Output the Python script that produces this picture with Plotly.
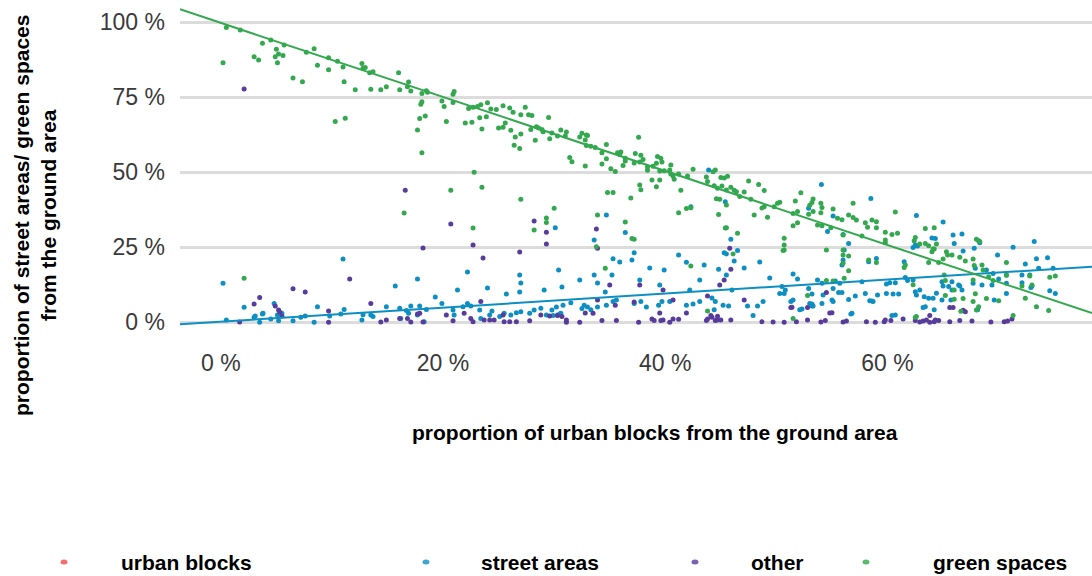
import plotly.graph_objects as go

# ---- data (percent of ground area) ----
green_x = [0.5, 1.75, 0.2, 3.75, 4.5, 5.0, 5.7, 3.0, 3.4, 4.9, 5.2, 5.6, 5.1, 6.5, 7.35, 7.7, 8.4, 8.7, 9.7, 9.7,
           10.5, 11.0, 11.1, 10.3, 11.2, 12.1, 12.7, 12.8, 13.0, 13.4, 13.7, 13.5, 14.4, 14.9, 16.0, 16.1, 16.9, 16.8, 17.1, 18.1,
           18.5, 18.6, 18.1, 18.0, 18.4, 17.9, 17.7, 18.1, 19.9, 20.1, 20.3, 20.9, 21.0, 20.9, 22.0, 22.6, 22.3, 22.7, 23.1, 23.3,
           23.4, 24.0, 24.3, 24.8, 25.4, 26.0, 26.3, 23.9, 23.5, 25.0, 25.4, 25.6, 26.1, 26.5, 27.0, 26.4, 26.9, 27.0, 27.4, 27.7,
           28.0, 27.9, 28.4, 28.6, 29.0, 28.9, 28.3, 29.5, 29.6, 29.8, 30.6, 31.1, 31.0, 30.3, 32.3, 32.5, 32.9, 33.0, 32.8, 32.9,
           33.3, 33.7, 34.7, 34.3, 34.7, 31.4, 31.6, 32.8, 34.3, 35.1, 35.5, 35.7, 36.0, 35.9, 36.4, 36.2, 36.4, 37.3, 37.8, 38.0,
           37.6, 37.2, 37.7, 38.4, 38.4, 38.9, 39.2, 39.3, 39.6, 39.7, 39.5, 39.9, 40.4, 40.5, 40.7, 40.8, 41.2, 40.5, 42.0, 42.5,
           38.8, 39.5, 39.2, 37.7, 37.8, 36.9, 34.8, 35.3, 41.4, 41.2, 41.9, 42.3, 43.7, 43.8, 44.3, 44.5, 44.4, 44.7, 45.0, 45.3,
           45.6, 45.1, 45.5, 45.9, 46.2, 46.4, 44.6, 44.9, 45.5, 44.8, 45.4, 45.5, 46.5, 46.1, 47.1, 46.7, 47.5, 48.4, 48.9, 47.7,
           48.9, 48.7, 49.8, 48.0, 49.2, 50.1, 23.5, 27.0, 30.0, 29.3, 29.3, 28.2, 33.9, 33.8, 36.4, 37.0, 37.2, 34.6, 42.3, 2.1,
           22.7, 16.5, 20.7, 22.8, 50.3, 51.7, 52.2, 51.9, 51.5, 51.9, 51.5, 52.9, 53.2, 53.3, 53.0, 53.3, 54.0, 54.1, 54.0, 53.7,
           54.1, 54.9, 55.1, 55.5, 55.9, 54.5, 50.7, 50.6, 50.7, 50.7, 56.9, 56.5, 56.9, 57.2, 56.0, 56.0, 56.0, 56.5, 56.0, 56.5,
           56.1, 58.0, 58.2, 58.6, 59.0, 59.0, 58.3, 59.0, 57.7, 59.8, 60.4, 60.9, 60.7, 59.8, 59.8, 61.6, 61.5, 62.3, 62.5, 62.4,
           62.9, 63.4, 63.4, 63.7, 64.2, 64.4, 64.1, 63.7, 64.6, 64.0, 64.2, 65.0, 65.4, 65.8, 65.3, 65.2, 66.0, 66.8, 67.9, 67.7,
           66.5, 67.0, 67.7, 67.8, 68.0, 68.3, 68.5, 68.6, 69.1, 69.5, 67.7, 68.2, 68.0, 68.9, 70.0, 70.7, 70.7, 71.3, 72.1, 72.8,
           73.0, 72.4, 73.4, 74.5, 74.6, 75.1, 55.1, 54.5, 52.8, 51.5, 62.6, 65.1, 65.2, 66.0, 66.6, 43.8, 62.5]
green_y = [98.3, 97.4, 86.5, 93.0, 94.1, 91.0, 92.4, 88.5, 87.4, 88.5, 89.4, 88.9, 86.5, 81.4, 80.2, 90.0, 91.2, 85.7, 88.2, 84.2,
           87.0, 85.1, 80.2, 66.9, 68.0, 77.5, 86.3, 84.7, 84.9, 83.2, 83.5, 77.7, 77.5, 78.5, 83.2, 77.5, 80.1, 78.5, 77.1, 76.3,
           77.2, 76.7, 73.5, 72.7, 68.8, 67.9, 64.1, 56.5, 73.8, 71.9, 66.9, 76.0, 76.9, 73.3, 66.4, 66.7, 71.3, 71.7, 71.9, 68.2,
           72.5, 73.2, 71.1, 70.9, 72.2, 71.4, 70.0, 68.5, 64.4, 64.8, 65.0, 66.4, 64.0, 61.8, 62.8, 59.0, 57.9, 69.2, 71.7, 69.2,
           68.9, 64.3, 65.2, 64.8, 63.5, 64.3, 60.7, 68.3, 61.2, 63.1, 64.1, 63.4, 62.1, 62.1, 61.8, 63.0, 62.4, 62.3, 60.8, 58.9,
           58.7, 58.3, 59.3, 56.5, 54.5, 54.9, 53.5, 52.1, 52.8, 51.2, 50.3, 56.5, 56.8, 55.9, 53.8, 52.3, 54.7, 56.3, 55.7, 54.3,
           61.7, 53.1, 53.4, 50.7, 51.8, 52.0, 53.0, 55.3, 54.7, 53.4, 50.4, 50.5, 50.8, 49.4, 48.8, 47.7, 49.4, 52.4, 48.8, 51.0,
           47.4, 47.4, 45.2, 45.8, 44.2, 41.4, 43.3, 43.3, 44.0, 36.5, 37.9, 38.2, 48.4, 46.9, 50.2, 50.8, 45.5, 44.7, 48.3, 48.1,
           48.7, 45.4, 44.1, 45.0, 44.0, 43.5, 41.2, 41.0, 39.1, 35.9, 31.4, 31.5, 29.7, 22.8, 43.4, 41.9, 47.1, 45.9, 43.9, 41.0,
           38.5, 38.1, 38.5, 35.8, 35.0, 39.7, 45.0, 41.0, 38.0, 34.8, 33.3, 30.8, 35.8, 25.2, 33.4, 27.9, 27.7, 18.0, 18.8, 14.7,
           31.4, 36.4, 44.0, 50.0, 40.0, 40.4, 43.2, 36.9, 36.3, 33.2, 32.2, 36.0, 39.9, 41.1, 39.0, 36.9, 39.7, 38.3, 36.5, 32.4,
           32.2, 31.5, 37.8, 34.7, 34.2, 24.1, 28.0, 23.9, 24.1, 25.8, 39.7, 35.8, 34.9, 34.1, 29.1, 24.1, 22.4, 22.1, 19.7, 17.2,
           14.7, 33.2, 31.7, 34.1, 33.5, 31.5, 20.8, 19.9, 28.8, 30.0, 29.3, 29.7, 36.8, 27.4, 26.5, 19.1, 18.3, 12.5, 28.3, 27.2,
           26.1, 31.3, 26.3, 25.5, 31.5, 26.1, 24.4, 19.9, 19.9, 23.5, 24.4, 21.1, 22.4, 22.4, 23.5, 8.9, 7.7, 7.9, 9.5, 6.9,
           21.7, 20.4, 21.1, 18.9, 27.7, 26.9, 19.1, 17.4, 15.2, 13.9, 14.1, 5.2, 4.1, 7.9, 7.2, 19.9, 15.7, 2.3, 12.1, 15.4,
           12.4, 8.0, 5.2, 3.9, 15.0, 15.4, 13.8, 13.9, 8.9, 1.3, 1.9, 15.8, 13.9, 10.8, 3.7, 3.8, 1.7]

street_x = [0.2, 2.1, 4.8, 3.75, 3.0, 3.5, 0.5, 4.5, 5.1, 5.5, 5.2, 6.5, 3.1, 3.8, 7.6, 7.2, 8.7, 8.4, 9.8, 11.1,
            10.8, 12.8, 12.7, 13.5, 13.7, 14.9, 16.1, 16.2, 16.9, 16.7, 17.1, 17.9, 18.5, 18.3, 17.7, 19.9, 20.9, 21.0, 21.8, 22.2,
            22.5, 23.3, 23.4, 24.2, 24.4, 25.1, 25.5, 26.1, 26.6, 27.0, 27.8, 28.2, 28.8, 29.3, 29.8, 30.3, 30.6, 30.1, 34.7, 36.4,
            35.3, 37.2, 37.0, 41.2, 41.9, 42.3, 43.9, 45.4, 45.9, 45.3, 45.5, 46.5, 46.2, 44.8, 11.0, 17.7, 15.7, 19.3, 21.3, 22.2,
            24.0, 25.7, 29.1, 30.4, 26.9, 27.0, 26.9, 30.7, 32.3, 33.6, 33.9, 34.6, 35.2, 35.9, 37.7, 38.6, 39.5, 39.9, 42.2, 43.1,
            43.5, 44.2, 45.5, 46.0, 47.1, 48.5, 49.4, 50.8, 33.6, 29.9, 30.5, 30.2, 30.8, 31.5, 32.5, 32.7, 33.0, 33.3, 33.9, 34.7,
            35.3, 35.6, 37.2, 37.8, 38.3, 39.4, 39.7, 40.4, 41.9, 42.5, 43.1, 44.4, 44.5, 45.2, 45.7, 47.4, 47.9, 48.3, 48.8, 51.3,
            52.1, 53.0, 53.2, 55.0, 56.7, 58.4, 58.7, 60.4, 63.2, 64.2, 64.9, 65.7, 68.1, 69.6, 54.05, 58.5, 52.9, 55.1, 54.6, 56.0,
            56.5, 56.1, 56.0, 55.9, 59.0, 58.3, 62.6, 65.0, 64.0, 64.3, 62.3, 61.5, 61.6, 62.5, 62.7, 65.9, 66.7, 66.0, 66.8, 67.8,
            68.3, 68.2, 69.9, 71.3, 73.2, 74.4, 73.4, 72.4, 67.9, 68.9, 69.5, 70.7, 72.1, 72.8, 73.6, 74.9, 51.5, 51.9, 50.7, 50.3,
            52.9, 53.2, 53.7, 54.1, 54.2, 55.1, 55.3, 55.6, 55.9, 55.7, 51.5, 52.3, 53.2, 53.3, 54.1, 55.1, 56.5, 57.1, 56.8, 57.7,
            58.0, 58.6, 59.1, 59.9, 59.9, 60.5, 61.0, 60.2, 60.7, 61.8, 62.3, 62.5, 62.6, 62.9, 63.3, 63.7, 64.1, 64.4, 64.9, 65.0,
            65.5, 65.8, 66.4, 63.4, 65.8, 66.5, 66.7, 67.7, 68.5, 69.4, 70.0, 70.7, 70.7, 72.1, 72.9, 73.0, 74.6, 75.1, 60.7, 68.1,
            50.5]
street_y = [13.0, 5.0, 6.3, 2.8, 1.7, 0.0, 0.8, 1.1, 2.4, 3.0, 0.5, 0.5, 2.1, 3.0, 2.1, 1.7, 5.2, 0.0, 2.1, 4.3,
            2.8, 2.5, 0.8, 2.4, 1.9, 5.2, 4.7, 1.3, 3.0, 3.9, 5.4, 5.4, 4.3, 0.2, 2.4, 6.3, 4.1, 2.4, 5.2, 6.3,
            5.4, 4.1, 1.3, 2.4, 3.8, 1.9, 3.0, 2.4, 3.2, 3.5, 3.0, 4.1, 4.7, 2.4, 4.1, 2.4, 3.0, 31.5, 35.8, 29.9,
            21.2, 23.2, 20.8, 22.4, 20.0, 38.5, 50.8, 40.2, 27.7, 23.2, 22.8, 23.9, 20.4, 17.7, 21.1, 14.4, 12.1, 8.4, 10.8, 16.8,
            11.4, 9.4, 10.8, 17.4, 15.8, 13.1, 10.1, 11.8, 14.1, 15.8, 13.1, 10.1, 15.8, 20.1, 14.1, 18.1, 12.4, 17.4, 10.8, 14.1,
            19.1, 8.1, 15.8, 10.8, 18.1, 20.1, 14.8, 10.8, 27.4, 2.3, 2.8, 5.1, 5.7, 6.5, 4.6, 5.7, 5.1, 4.2, 5.1, 5.7,
            6.9, 7.4, 6.3, 6.9, 5.1, 5.7, 6.9, 6.9, 5.7, 6.1, 6.9, 4.2, 6.9, 5.7, 5.4, 5.4, 2.3, 5.4, 6.9, 6.9,
            4.2, 6.3, 5.4, 7.4, 2.8, 7.2, 6.9, 2.3, 4.9, 4.2, 7.4, 7.4, 4.2, 7.4, 45.9, 41.3, 38.0, 35.4, 30.3, 29.3,
            26.3, 24.1, 20.8, 19.1, 21.3, 20.2, 35.6, 33.4, 28.1, 27.9, 24.9, 20.2, 14.9, 25.8, 25.4, 29.1, 29.4, 26.3, 23.8, 24.7,
            26.5, 27.2, 22.4, 25.0, 26.9, 21.5, 21.2, 19.4, 18.0, 17.4, 16.3, 15.8, 15.8, 15.8, 18.0, 18.0, 16.1, 14.4, 9.6, 9.6,
            11.3, 9.4, 14.1, 13.0, 9.1, 11.3, 13.8, 9.9, 9.9, 13.0, 7.4, 4.4, 6.1, 5.4, 6.3, 6.9, 7.6, 8.8, 3.0, 13.5,
            9.6, 7.1, 9.1, 12.8, 9.6, 9.4, 9.4, 13.2, 13.2, 13.9, 14.1, 10.2, 9.1, 10.8, 8.5, 8.0, 8.0, 9.7, 13.5, 12.1,
            11.9, 13.5, 12.4, 5.2, 10.8, 12.1, 10.8, 13.0, 12.4, 12.4, 14.4, 13.0, 9.6, 13.2, 11.6, 12.1, 10.5, 9.6, 2.4, 4.3,
            11.9]

other_x = [2.1, 3.5, 3.0, 4.9, 5.2, 5.3, 6.5, 1.7, 5.5, 9.7, 9.7, 13.5, 14.4, 14.9, 16.1, 16.8, 17.1, 17.7, 17.9, 18.2,
           20.3, 20.9, 21.9, 22.5, 22.7, 23.4, 23.7, 24.2, 24.6, 25.4, 25.5, 26.0, 26.6, 27.8, 28.8, 29.6, 31.1, 16.6, 20.7, 18.2,
           22.7, 23.6, 11.6, 7.6, 26.9, 28.2, 29.3, 29.3, 33.8, 33.9, 45.8, 45.9, 37.7, 35.0, 33.9, 39.8, 40.7, 43.8, 45.3, 44.9,
           47.1, 31.1, 32.3, 34.3, 35.6, 37.6, 38.8, 39.0, 39.6, 39.8, 40.4, 40.7, 41.2, 41.9, 43.7, 43.8, 44.2, 44.5, 44.7, 45.0,
           45.9, 48.7, 49.7, 50.7, 51.8, 52.8, 54.0, 54.4, 54.8, 56.0, 56.3, 58.1, 58.9, 59.7, 59.8, 60.3, 61.4, 62.5, 62.9, 63.2,
           63.5, 63.8, 64.2, 64.3, 64.6, 65.6, 66.5, 67.6, 69.3, 70.5, 70.8, 71.2, 30.3, 30.7, 32.8, 33.5, 35.5, 37.2, 39.5, 44.1,
           44.7, 51.3, 52.8, 63.8, 65.6, 66.8, 54.5, 55.0, 51.4, 65.9, 67.0]
other_y = [77.8, 8.3, 6.1, 5.4, 4.1, 3.4, 11.2, 0.1, 2.1, 3.8, 0.0, 6.3, 0.1, 0.8, 1.3, 1.3, 0.1, 2.8, 3.0, 0.1,
           2.4, 0.5, 3.0, 1.3, 0.2, 6.9, 0.8, 0.8, 0.8, 2.4, 0.2, 0.2, 0.2, 0.5, 2.4, 2.1, 0.8, 44.0, 32.8, 24.8,
           25.8, 21.4, 14.4, 10.1, 23.4, 33.8, 30.0, 26.1, 31.1, 24.7, 24.7, 17.7, 12.4, 12.4, 7.4, 10.8, 7.4, 8.8, 14.1, 12.4,
           7.4, 0.0, 0.0, 0.6, 0.6, 0.0, 1.1, 0.6, 0.6, 0.8, 0.0, 1.1, 1.0, 3.1, 0.6, 1.1, 1.7, 0.6, 0.8, 0.8,
           0.8, 0.2, 0.1, 0.0, 0.2, 0.8, 0.1, 0.6, 3.1, 0.1, 0.4, 0.2, 0.0, 0.2, 0.8, 0.6, 1.1, 0.6, 0.1, 0.4,
           0.8, 0.0, 0.2, 0.8, 0.6, 0.2, 0.6, 0.4, 0.1, 0.2, 0.4, 1.1, 2.3, 1.9, 3.1, 3.0, 5.7, 6.8, 3.1, 2.3,
           2.0, 4.9, 4.9, 2.3, 4.9, 4.0, 9.9, 3.2, 5.0, 4.9, 3.5]

# linear trends (intercept, slope) of the two area shares against urban-block share
green_fit = (99.8, -1.234)
street_fit = (0.2, 0.234)

x_ticks = [0, 20, 40, 60]
x_tick_text = ["0 %", "20 %", "40 %", "60 %"]
y_ticks = [0, 25, 50, 75, 100]
y_tick_text = ["0 %", "25 %", "50 %", "75 %", "100 %"]

legend_labels = ["urban blocks", "street areas", "other", "green spaces"]

# ---- styling ----
C_RED = "#f24a4a"
C_BLUE = "#0d8fc2"
C_PURPLE = "#573c9c"
C_GREEN = "#33a84e"
FONT = "Liberation Sans, Arial, sans-serif"

X_RANGE = [-3.67, 78.4]
Y_RANGE = [-2.57, 107.43]

fig = go.Figure()

fig.add_trace(go.Scatter(x=street_x, y=street_y, mode="markers", name="street areas",
                         marker=dict(color=C_BLUE, size=5, line=dict(width=0))))
fig.add_trace(go.Scatter(x=other_x, y=other_y, mode="markers", name="other",
                         marker=dict(color=C_PURPLE, size=5, line=dict(width=0))))
fig.add_trace(go.Scatter(x=green_x, y=green_y, mode="markers", name="green spaces",
                         marker=dict(color=C_GREEN, size=5, line=dict(width=0))))

for (b0, b1), col in ((street_fit, C_BLUE), (green_fit, C_GREEN)):
    fig.add_trace(go.Scatter(x=X_RANGE, y=[b0 + b1 * X_RANGE[0], b0 + b1 * X_RANGE[1]],
                             mode="lines", line=dict(color=col, width=2), hoverinfo="skip"))

fig.update_layout(
    width=1092, height=576,
    margin=dict(l=180, r=0, t=0, b=246, pad=0),
    paper_bgcolor="white", plot_bgcolor="white",
    showlegend=False,
    font=dict(family=FONT),
    xaxis=dict(range=X_RANGE, showgrid=False, zeroline=False, showline=False,
               tickvals=x_ticks, ticktext=x_tick_text, ticks="",
               tickfont=dict(size=23, color="#3a3a3a"), ticklabelstandoff=17,
               automargin=False),
    yaxis=dict(range=Y_RANGE, showgrid=True, gridcolor="#dcdcdc", gridwidth=2.5,
               zeroline=False, showline=False,
               tickvals=y_ticks, ticktext=y_tick_text, ticks="",
               tickfont=dict(size=23, color="#3a3a3a"), ticklabelstandoff=14,
               automargin=False),
)

PL, PH = 912, 330


def px_x(p):
    return (p - 180) / PL


def px_y(p):
    return (PH - p) / PH


# axis titles
fig.add_annotation(text="<b>proportion of street areas/ green spaces<br>from the ground area</b>",
                   textangle=-90, xref="paper", yref="paper", x=px_x(35), y=px_y(216),
                   xanchor="center", yanchor="middle", showarrow=False,
                   font=dict(size=21, color="black", family=FONT))
fig.add_annotation(text="<b>proportion of urban blocks from the ground area</b>",
                   xref="paper", yref="paper", x=px_x(655), y=px_y(433),
                   xanchor="center", yanchor="middle", showarrow=False,
                   font=dict(size=21, color="black", family=FONT))

# legend row
legend_colors = [C_RED, C_BLUE, C_PURPLE, C_GREEN]
marker_px = [64, 426, 695, 866]
label_px = [119, 479, 749, 931]
for lab, col, mx, lx in zip(legend_labels, legend_colors, marker_px, label_px):
    fig.add_shape(type="circle", xref="paper", yref="paper",
                  xsizemode="pixel", ysizemode="pixel",
                  xanchor=px_x(mx), yanchor=px_y(562),
                  x0=-3.5, x1=3.5, y0=-2.5, y1=2.5,
                  fillcolor=col, line=dict(width=0), opacity=0.8)
    fig.add_annotation(text=f"<b>{lab}</b>", xref="paper", yref="paper",
                       x=px_x(lx), y=px_y(562), xanchor="left", yanchor="middle",
                       showarrow=False, font=dict(size=21, color="black", family=FONT))

fig.write_html("out.html")
